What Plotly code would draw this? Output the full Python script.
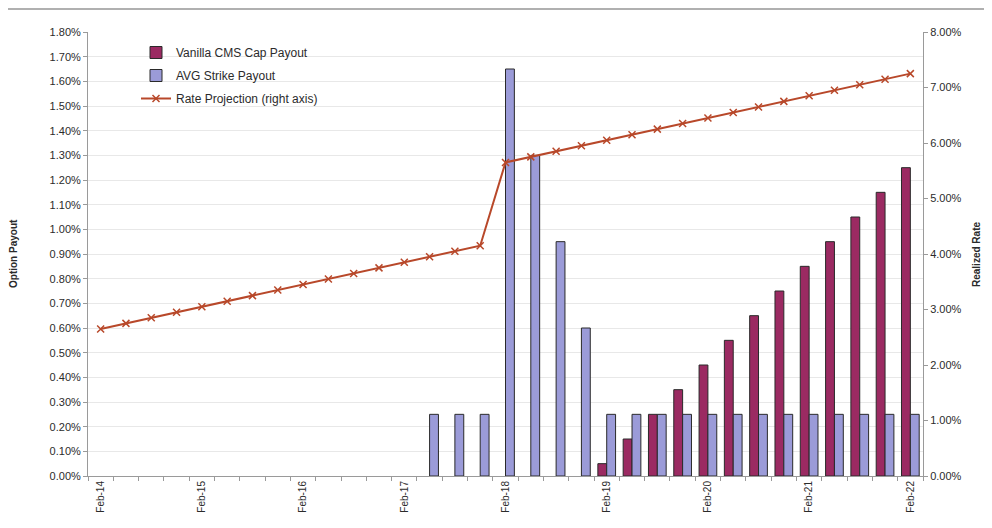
import plotly.graph_objects as go

categories = [
    "Feb-14", "May-14", "Aug-14", "Nov-14",
    "Feb-15", "May-15", "Aug-15", "Nov-15",
    "Feb-16", "May-16", "Aug-16", "Nov-16",
    "Feb-17", "May-17", "Aug-17", "Nov-17",
    "Feb-18", "May-18", "Aug-18", "Nov-18",
    "Feb-19", "May-19", "Aug-19", "Nov-19",
    "Feb-20", "May-20", "Aug-20", "Nov-20",
    "Feb-21", "May-21", "Aug-21", "Nov-21",
    "Feb-22",
]
tick_labels = ["Feb-14", "Feb-15", "Feb-16", "Feb-17", "Feb-18",
               "Feb-19", "Feb-20", "Feb-21", "Feb-22"]

vanilla_cms = [None] * 20 + [0.05, 0.15, 0.25, 0.35, 0.45, 0.55, 0.65, 0.75,
                             0.85, 0.95, 1.05, 1.15, 1.25]
avg_strike = [None] * 13 + [0.25, 0.25, 0.25, 1.65, 1.30, 0.95, 0.60,
                            0.25, 0.25, 0.25, 0.25, 0.25, 0.25, 0.25,
                            0.25, 0.25, 0.25, 0.25, 0.25, 0.25]
rate_projection = [2.65, 2.75, 2.85, 2.95, 3.05, 3.15, 3.25, 3.35,
                   3.45, 3.55, 3.65, 3.75, 3.85, 3.95, 4.05, 4.15,
                   5.65, 5.75, 5.85, 5.95, 6.05, 6.15, 6.25, 6.35,
                   6.45, 6.55, 6.65, 6.75, 6.85, 6.95, 7.05, 7.15, 7.25]

FONT = "Liberation Sans, Arial, sans-serif"
TXT = "#2b2b2b"
AX = "#9a9a9a"

# The page body has an 8px default margin; size the figure so the page never overflows.
FIG_W, FIG_H = 984, 512
L, R, T, B = 80, 69, 24, 44
W = FIG_W - L - R
H = FIG_H - T - B

def px(xp):  # figure pixel -> paper x
    return (xp - L) / W

def py(yp):  # figure pixel -> paper y
    return (FIG_H - B - yp) / H

fig = go.Figure()
fig.add_trace(go.Bar(
    x=categories, y=vanilla_cms, name="Vanilla CMS Cap Payout",
    legendgroup="a",
    marker=dict(color="#9b2a62", line=dict(color="#2a2a2a", width=1)),
))
fig.add_trace(go.Bar(
    x=categories, y=avg_strike, name="AVG Strike Payout",
    legendgroup="b",
    marker=dict(color="#9b9bd8", line=dict(color="#2a2a2a", width=1)),
))
fig.add_trace(go.Scatter(
    x=categories, y=rate_projection, name="Rate Projection (right axis)",
    legendgroup="c",
    yaxis="y2", mode="lines+markers",
    line=dict(color="#b8482a", width=2),
    marker=dict(symbol="x-thin", size=7, line=dict(color="#b8482a", width=1.5)),
))

ticktext = [c if c in tick_labels else "" for c in categories]

fig.update_layout(
    width=FIG_W, height=FIG_H,
    margin=dict(l=L, r=R, t=T, b=B, autoexpand=False),
    paper_bgcolor="white", plot_bgcolor="white",
    font=dict(family=FONT, size=11, color=TXT),
    barmode="group", bargap=0.3, bargroupgap=0.0,
    showlegend=True,
    legend=dict(x=px(128), y=py(30), xanchor="left", yanchor="top",
                bgcolor="rgba(0,0,0,0)", font=dict(size=12, color=TXT),
                traceorder="grouped", tracegroupgap=4),
    xaxis=dict(
        type="category", categoryorder="array", categoryarray=categories,
        tickmode="array", tickvals=categories, ticktext=ticktext,
        tickangle=-90, tickfont=dict(size=10, color=TXT),
        ticks="outside", ticklen=4, tickcolor=AX, tickson="boundaries",
        showline=True, linecolor=AX, linewidth=1,
        showgrid=False, zeroline=False,
        range=[-0.5, 32.5],
    ),
    yaxis=dict(
        range=[0, 1.8], dtick=0.1, tickformat=".2f", ticksuffix="%",
        tickfont=dict(size=11, color=TXT),
        ticks="outside", ticklen=4, tickcolor=AX,
        showline=True, linecolor=AX, linewidth=1,
        showgrid=True, gridcolor="#e8e8e8", gridwidth=1, zeroline=False,
    ),
    yaxis2=dict(
        overlaying="y", side="right",
        range=[0, 8], dtick=1, tickformat=".2f", ticksuffix="%",
        tickfont=dict(size=11, color=TXT),
        ticks="outside", ticklen=4, tickcolor=AX,
        showline=True, linecolor=AX, linewidth=1,
        showgrid=False, zeroline=False,
    ),
    annotations=[
        dict(text="<b>Option Payout</b>", x=px(5), y=py(246), xref="paper", yref="paper",
             xanchor="center", yanchor="middle",
             showarrow=False, textangle=-90, font=dict(size=10, color=TXT)),
        dict(text="<b>Realized Rate</b>", x=px(968), y=py(246), xref="paper", yref="paper",
             xanchor="center", yanchor="middle",
             showarrow=False, textangle=-90, font=dict(size=10, color=TXT)),
    ],
)

fig.add_shape(type="line", xref="paper", yref="paper",
              x0=px(0), x1=px(FIG_W), y0=py(1), y1=py(1),
              line=dict(color="#b0b0b0", width=2))

fig.write_html("out.html")
